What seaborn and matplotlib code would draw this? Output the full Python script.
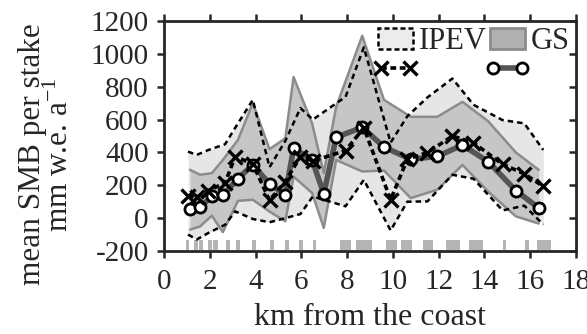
import matplotlib
matplotlib.use("Agg")
import matplotlib.pyplot as plt
from matplotlib.patches import Patch
from matplotlib.lines import Line2D
from matplotlib.legend_handler import HandlerLine2D
import seaborn as sns
import pandas as pd

# IPEV stakes: distance from the coast and SMB statistics (mm w.e. a-1)
ipev_km = [1.05, 1.43, 1.94, 2.67, 3.11, 3.88, 4.61, 5.30, 5.96, 6.50,
           7.93, 8.73, 9.90, 10.63, 11.51, 12.60, 13.52, 14.79, 15.74, 16.57]
ipev_mean = [136, 128, 168, 215, 375, 330, 108, 223, 375, 348,
             411, 550, 112, 359, 399, 500, 459, 328, 270, 193]
ipev_max = [405, 385, 415, 450, 550, 720, 310, 470, 670, 600,
            738, 1040, 460, 620, 735, 850, 690, 597, 577, 415]
ipev_min = [-100, -130, -90, -40, 41, -5, -25, 0, 25, 132,
            72, 233, -75, 100, 102, 264, 240, 47, 76, -39]

# GS stakes
gs_km = [1.14, 1.58, 2.09, 2.57, 3.23, 3.88, 4.61, 5.30, 5.66, 6.47,
         6.98, 7.52, 8.66, 9.61, 10.78, 11.94, 13.04, 14.16, 15.37, 16.37]
gs_mean = [56, 68, 132, 138, 241, 324, 209, 142, 425, 355,
           148, 492, 553, 433, 358, 376, 445, 344, 168, 62]
gs_max = [294, 264, 274, 354, 476, 700, 420, 486, 859, 577,
          274, 677, 1110, 720, 617, 617, 708, 590, 400, 294]
gs_min = [-70, -50, 15, -85, 105, 112, 40, -19, 253, 153,
          -59, 354, 284, 290, 122, 173, 324, 162, 11, -33]

# Stretches of the profile covered by stakes (km)
seg_start = [0.96, 1.33, 1.55, 1.94, 2.13, 2.72, 3.15, 3.84, 4.64, 5.30, 5.88,
             6.50, 7.68, 8.37, 9.68, 10.34, 11.31, 12.31, 13.33, 14.79, 15.78, 16.29]
seg_end = [1.11, 1.48, 1.70, 2.09, 2.35, 2.89, 3.33, 4.03, 4.82, 5.48, 6.06,
           6.66, 8.19, 9.10, 10.16, 10.82, 11.73, 12.92, 13.92, 14.94, 15.93, 16.91]

x_ticks = [0, 2, 4, 6, 8, 10, 12, 14, 16, 18]
y_ticks = [-200, 0, 200, 400, 600, 800, 1000, 1200]

sns.set_theme(style="ticks")
plt.rcParams["font.family"] = ["Liberation Serif", "DejaVu Serif"]
plt.rcParams["mathtext.fontset"] = "custom"
plt.rcParams["mathtext.rm"] = "Liberation Serif"
plt.rcParams["mathtext.it"] = "Liberation Serif:italic"
plt.rcParams["axes.unicode_minus"] = False

ipev = pd.DataFrame({"km": ipev_km, "mean": ipev_mean, "max": ipev_max, "min": ipev_min})
gs = pd.DataFrame({"km": gs_km, "mean": gs_mean, "max": gs_max, "min": gs_min})

fig = plt.figure(figsize=(5.87, 3.34), dpi=100)
ax = fig.add_axes([0.2794, 0.2485, 0.7019, 0.6886])

IPEV_FILL = "#e6e6e6"
GS_FILL = "#c6c6c6"
GS_EDGE = "#8c8c8c"
IPEV_DASH = (0, (2.2, 1.6))
MEAN_DASH = (0, (1.6, 1.0))

# envelopes
ax.fill_between(ipev["km"], ipev["min"], ipev["max"], color=IPEV_FILL, lw=0, zorder=1)
ax.fill_between(gs["km"], gs["min"], gs["max"], color=GS_FILL, lw=0, zorder=2)
for col in ("min", "max"):
    sns.lineplot(data=gs, x="km", y=col, ax=ax, sort=False, estimator=None,
                 color=GS_EDGE, lw=1.8, zorder=3)
for col in ("min", "max"):
    sns.lineplot(data=ipev, x="km", y=col, ax=ax, sort=False, estimator=None,
                 color="black", lw=1.8, zorder=4, linestyle=IPEV_DASH)

# stake coverage bars
widths = [e - s for s, e in zip(seg_start, seg_end)]
ax.bar(seg_start, [65] * len(seg_start), width=widths, bottom=-195,
       align="edge", color="#b4b4b4", lw=0, zorder=2)

# mean lines
sns.lineplot(data=gs, x="km", y="mean", ax=ax, sort=False, estimator=None,
             color="#555555", lw=4, marker="o", markersize=8,
             markerfacecolor="white", markeredgecolor="black",
             markeredgewidth=2, zorder=5)
sns.lineplot(data=ipev, x="km", y="mean", ax=ax, sort=False, estimator=None,
             color="black", lw=2.6, marker="x", markersize=10,
             markeredgecolor="black", markeredgewidth=2.4, zorder=6,
             linestyle=MEAN_DASH)

ax.set_xlim(0, 18)
ax.set_ylim(-200, 1200)
ax.set_xticks(x_ticks)
ax.set_yticks(y_ticks)
ax.tick_params(axis="x", labelsize=21, width=1.8, length=5, direction="out",
               top=True, pad=8)
ax.tick_params(axis="y", labelsize=21, width=1.8, length=5, direction="out",
               right=True, pad=6)
for t in ax.yaxis.get_major_ticks():
    t.tick2line.set_marker(matplotlib.lines.TICKLEFT)
for sp in ax.spines.values():
    sp.set_linewidth(2.0)
    sp.set_visible(True)

ax.set_xlabel("km from the coast", fontsize=23)
ax.xaxis.set_label_coords(0.5, -0.225)
ax.set_ylabel("mean SMB per stake\nmm w.e. a$^{-1}$", fontsize=22.5, linespacing=0.95)
ax.yaxis.set_label_coords(-0.215, 0.42)

handles = [
    Patch(facecolor="#ececec", edgecolor="black", linestyle=(0, (2, 1.2)), lw=1.8),
    Line2D([], [], color="black", lw=2.6, linestyle=MEAN_DASH,
           marker="x", markersize=10, markeredgewidth=2.4),
    Patch(facecolor="#b0b0b0", edgecolor=GS_EDGE, lw=2),
    Line2D([], [], color="#555555", lw=4, marker="o", markersize=8,
           markerfacecolor="white", markeredgecolor="black", markeredgewidth=2),
]
labels = ["IPEV", "", "GS", ""]
ax.legend(handles, labels, ncol=2, loc="upper right", frameon=False,
          fontsize=22, handlelength=1.15, handleheight=0.65, handletextpad=0.2,
          columnspacing=0.08, labelspacing=0.0, borderaxespad=0.1,
          borderpad=0.1, numpoints=2,
          handler_map={Line2D: HandlerLine2D(marker_pad=0.1)})

fig.savefig("out.png", dpi=100)
